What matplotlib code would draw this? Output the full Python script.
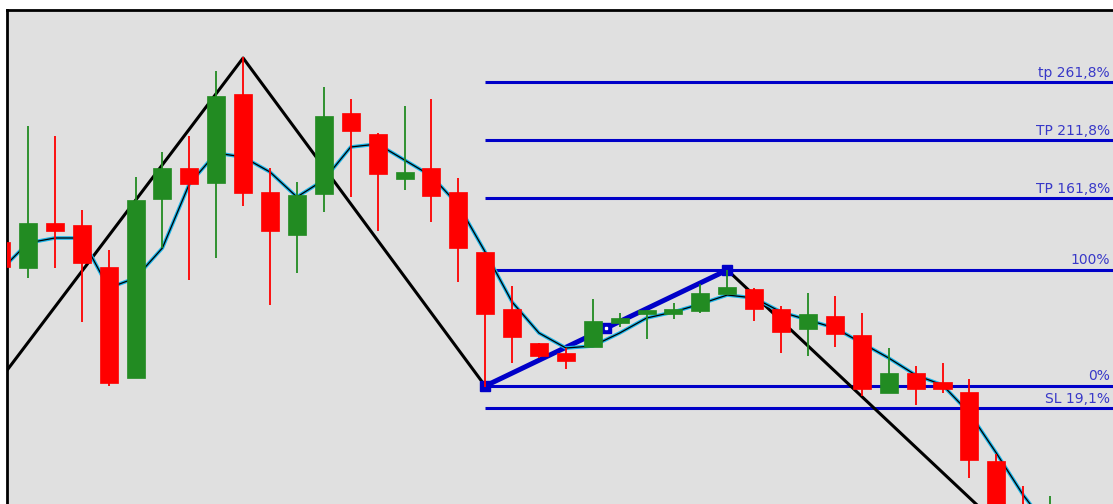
import matplotlib
matplotlib.use("Agg")
import matplotlib.pyplot as plt
import numpy as np

# ---------------- data (price units, higher = up) ----------------
opens  = [258, 232, 277, 275, 233, 122, 301, 332, 317, 406, 308, 265, 306, 387,
          366, 321, 332, 308, 248, 191, 157, 147, 153, 177, 186, 186, 189, 206,
          211, 191, 171, 184, 165, 107, 127, 118, 108, 39, -6, -30]
highs  = [262, 374, 364, 290, 250, 323, 348, 364, 429, 443, 332, 318, 413, 401,
          367, 394, 401, 322, 248, 214, 157, 152, 201, 187, 190, 197, 216, 230,
          212, 194, 207, 204, 187, 152, 134, 137, 121, 46, 14, 4]
lows   = [230, 222, 232, 178, 114, 122, 252, 220, 242, 294, 195, 227, 288, 303,
          269, 310, 278, 218, 113, 137, 142, 131, 153, 173, 161, 181, 187, 206,
          179, 147, 144, 153, 104, 107, 95, 107, 22, -45, -40, -20]
closes = [233, 277, 269, 237, 117, 300, 332, 316, 404, 307, 269, 305, 384, 369,
          326, 328, 304, 252, 186, 163, 144, 139, 179, 182, 190, 191, 207, 213,
          191, 168, 186, 166, 111, 127, 111, 111, 40, -30, -40, -10]
ma_vals = [230, 257, 262, 262, 212, 222, 252, 316, 347, 343, 328, 303, 320, 353,
           356, 340, 324, 295, 248, 198, 167, 152, 154, 167, 182, 188, 196, 205,
           202, 188, 180, 172, 157, 142, 125, 115, 87, 47, 5, -30]

zz_idx = [-3, 9, 18, 27, 40]
zz_val = [15, 442, 114, 230, -99]

swing_idx = [18, 27]          # fib anchor: low -> high
swing_val = [114, 230]
fib_ratios = [2.618, 2.118, 1.618, 1.0, 0.0, -0.191]
fib_labels = ["tp 261,8%", "TP 211,8%", "TP 161,8%", "100%", "0%", "SL 19,1%"]

# ---------------- figure ----------------
W, H, DPI = 1113, 504, 100
fig = plt.figure(figsize=(W / DPI, H / DPI), dpi=DPI, facecolor="white")
# axes extends beyond right and bottom of the image (cropped screenshot)
ax_left, ax_right = 7, 1135
ax_top, ax_bottom = 10, 560
ax = fig.add_axes([ax_left / W, (H - ax_bottom) / H,
                   (ax_right - ax_left) / W, (ax_bottom - ax_top) / H])
ax.set_facecolor("#e0e0e0")

step = 26.9
x0 = 1.0
ax.set_xlim((ax_left - x0) / step, (ax_right - x0) / step)
ax.set_ylim(500 - ax_bottom, 500 - ax_top)
for s in ["right", "bottom"]:
    ax.spines[s].set_visible(False)
for s in ["left", "top"]:
    ax.spines[s].set_linewidth(2)
    ax.spines[s].set_color("black")
ax.set_xticks([])
ax.set_yticks([])

blue = "#0000c8"

# fib levels
lo, hi = swing_val
rng = hi - lo
xmax = ax.get_xlim()[1]
for r, lab in zip(fib_ratios, fib_labels):
    lvl = lo + r * rng
    ax.plot([swing_idx[0], xmax], [lvl, lvl], color=blue, lw=2.2, zorder=2,
            solid_capstyle="butt")
    ax.text((1110 - x0) / step, lvl + 2.5, lab, ha="right", va="bottom",
            fontsize=10, color="#3838c8", zorder=6)

# zigzag
ax.plot(zz_idx, zz_val, color="black", lw=2.2, zorder=3)

# blue trend line with handles
ax.plot(swing_idx, swing_val, color=blue, lw=3.6, zorder=3,
        marker="s", markersize=7, markerfacecolor=blue, markeredgecolor=blue)
mx, my = np.mean(swing_idx), np.mean(swing_val)
ax.plot([mx], [my], marker="s", markersize=7, color=blue, zorder=3)
ax.plot([mx], [my], marker="s", markersize=1.5, color="white", zorder=3)

# moving averages
idx = np.arange(len(ma_vals))
ax.plot(idx, ma_vals, color="#1ab4e8", lw=2.6, zorder=3)
ax.plot(idx, ma_vals, color="black", lw=0.9, zorder=3)

# candles
bw = 18 / step
for i, (o, h, l, c) in enumerate(zip(opens, highs, lows, closes)):
    col = "#228b22" if c >= o else "#ff0000"
    ax.plot([i, i], [l, h], color=col, lw=1.3, zorder=4, solid_capstyle="butt")
    bottom = min(o, c)
    height = max(abs(c - o), 1.5)
    ax.add_patch(plt.Rectangle((i - bw / 2, bottom), bw, height,
                               facecolor=col, edgecolor=col, lw=0.5, zorder=5))

fig.savefig("out.png", dpi=DPI, facecolor="white")
